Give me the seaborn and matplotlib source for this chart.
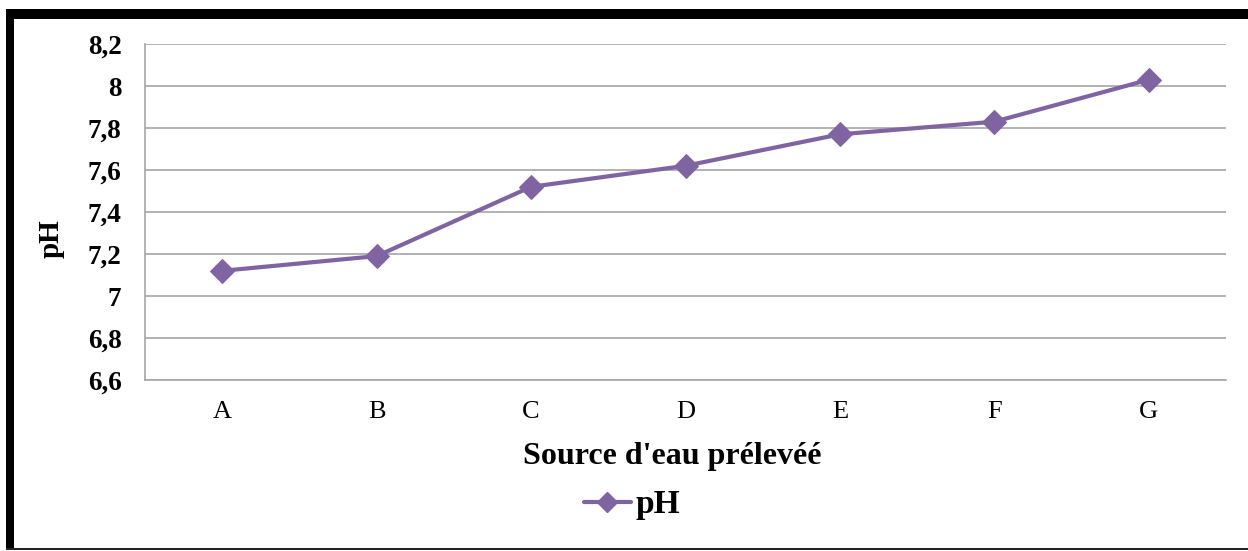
import matplotlib
matplotlib.use("Agg")
import matplotlib.pyplot as plt
import seaborn as sns
import pandas as pd
from matplotlib.lines import Line2D

sources = ["A", "B", "C", "D", "E", "F", "G"]
ph_values = [7.12, 7.19, 7.52, 7.62, 7.77, 7.83, 8.03]
y_ticks = [6.6, 6.8, 7.0, 7.2, 7.4, 7.6, 7.8, 8.0, 8.2]
y_tick_labels = ["6,6", "6,8", "7", "7,2", "7,4", "7,6", "7,8", "8", "8,2"]

sns.set_theme(style="white")
plt.rcParams["font.family"] = ["Liberation Serif", "DejaVu Serif"]
plt.rcParams.update({"text.color": "black", "axes.labelcolor": "black",
                     "xtick.color": "black", "ytick.color": "black"})

df = pd.DataFrame({"source": sources, "pH": ph_values})
purple = "#8064A2"

fig = plt.figure(figsize=(12.48, 5.51), dpi=100)
ax = fig.add_axes([145 / 1248, 1 - 380 / 551, (1226 - 145) / 1248, (380 - 44) / 551])

sns.lineplot(data=df, x="source", y="pH", ax=ax, color=purple, linewidth=3,
             marker="D", markersize=12.5, markeredgecolor=purple, sort=False)

ax.set_xlim(-0.5, len(sources) - 0.5)
ax.set_ylim(6.6, 8.2)
ax.set_yticks(y_ticks)
ax.set_yticklabels(y_tick_labels, fontsize=19.5, fontweight="bold")
ax.set_xticks(range(len(sources)))
ax.set_xticklabels(sources, fontsize=19)
ax.tick_params(axis="y", length=0, pad=17, labelcolor="black")
ax.tick_params(axis="x", length=0, pad=15, labelcolor="black")

ax.grid(axis="y", color="#A6A6A6", linewidth=1.2)
ax.set_axisbelow(True)
for side in ["top", "right"]:
    ax.spines[side].set_visible(False)
for side in ["left", "bottom"]:
    ax.spines[side].set_color("#A6A6A6")
    ax.spines[side].set_linewidth(1.2)

ax.set_xlabel("Source d'eau prélevéé", fontsize=23, fontweight="bold", color="black")
ax.xaxis.set_label_coords(0.4875, -0.185)
ax.set_ylabel("pH", fontsize=21, fontweight="bold", color="black")
ax.yaxis.set_label_coords(-0.074, 0.42)

handle = Line2D([], [], color=purple, linewidth=3, marker="D", markersize=10)
fig.legend([handle], ["pH"], loc="center", bbox_to_anchor=(632 / 1248, 1 - 505 / 551),
           frameon=False, prop={"family": "Liberation Serif", "weight": "bold", "size": 24},
           handlelength=1.4, handletextpad=0.15, labelcolor="black")

# outer frame: heavy on top and left, thin along the bottom
fig.add_artist(plt.Rectangle((6 / 1248, 1 - 19 / 551), 1.2, 10 / 551,
                             transform=fig.transFigure, color="black", lw=0))
fig.add_artist(plt.Rectangle((6 / 1248, 1 - 550 / 551), 8 / 1248, 540 / 551,
                             transform=fig.transFigure, color="black", lw=0))
fig.add_artist(plt.Rectangle((6 / 1248, 1 - 550 / 551), 1.2, 2 / 551,
                             transform=fig.transFigure, color="#222222", lw=0))

fig.savefig("out.png", dpi=100)
